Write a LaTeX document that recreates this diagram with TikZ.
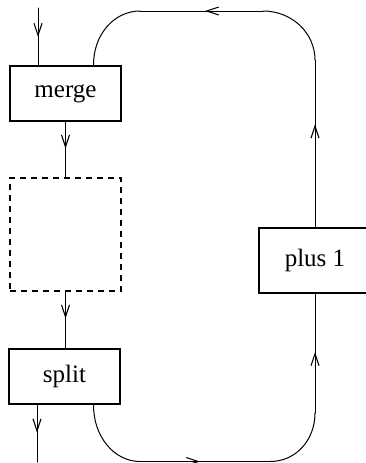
\documentclass[tikz,border=0pt]{standalone}
\usepackage{fontspec}
\setmainfont{Liberation Serif}
\usetikzlibrary{arrows.meta,decorations.markings,calc}
\tikzset{
  procbox/.style={draw, line width=1.2pt, minimum width=111pt, minimum height=55pt, inner sep=0pt,
    font=\fontsize{25}{30}\selectfont},
  dashbox/.style={draw, line width=1.2pt, dash pattern=on 6pt off 5pt, minimum width=111pt, minimum height=113pt, inner sep=0pt},
  wire/.style={line width=1pt, line cap=round},
  barb/.tip={Straight Barb[length=12pt,width=8pt,line width=1.1pt]},
  midarrow/.style={postaction={decorate}, decoration={markings, mark=at position #1 with {\arrow{barb}}}}
}
\begin{document}
\begin{tikzpicture}[x=1pt,y=-1pt]
\useasboundingbox (0,0) rectangle (366,463);
\clip (0,0) rectangle (366,463);
\node[procbox] (merge) at (65.5,93.5) {merge};
\node[dashbox] (dash) at (65.5,234.5) {};
\node[procbox] (split) at (64.5,376.5) {split};
\node[procbox, minimum width=112pt, minimum height=65pt] (plus) at (315,260.5) {plus 1};
\coordinate (inp) at (38,8);
\coordinate (outp) at (37,462);
\coordinate (bl) at (140,461.5);
\coordinate (br) at (270,461.5);
\coordinate (rl) at (315,413);
\coordinate (ru) at (315,60);
\coordinate (tr) at (263,11);
\coordinate (tl) at (140,11);
% input
\draw[wire, midarrow=29pt] (inp) -- (inp |- merge.north);
% merge to dashed
\draw[wire, midarrow=27pt] (merge.south -| dash.north) -- (dash.north);
% dashed to split
\draw[wire, midarrow=27pt] (dash.south) -- (dash.south |- split.north);
% output
\draw[wire, midarrow=28pt] (outp |- split.south) -- (outp);
% loop lower
\draw[wire] ([xshift=-27pt]split.south east) .. controls (93,436) and (114,461.5) .. (bl);
\draw[wire, midarrow=60pt] (bl) -- (br);
\draw[wire] (br) .. controls (296,461.5) and (315,440) .. (rl);
\draw[wire, midarrow=61pt] (rl) -- (plus.south);
% loop upper
\draw[wire, midarrow=103pt] (plus.north) -- (ru);
\draw[wire] (ru) .. controls (315,33) and (292,11) .. (tr);
\draw[wire, midarrow=58pt] (tr) -- (tl);
\draw[wire] (tl) .. controls (114,11) and (93,35) .. ([xshift=-28pt]merge.north east);
\end{tikzpicture}
\end{document}
